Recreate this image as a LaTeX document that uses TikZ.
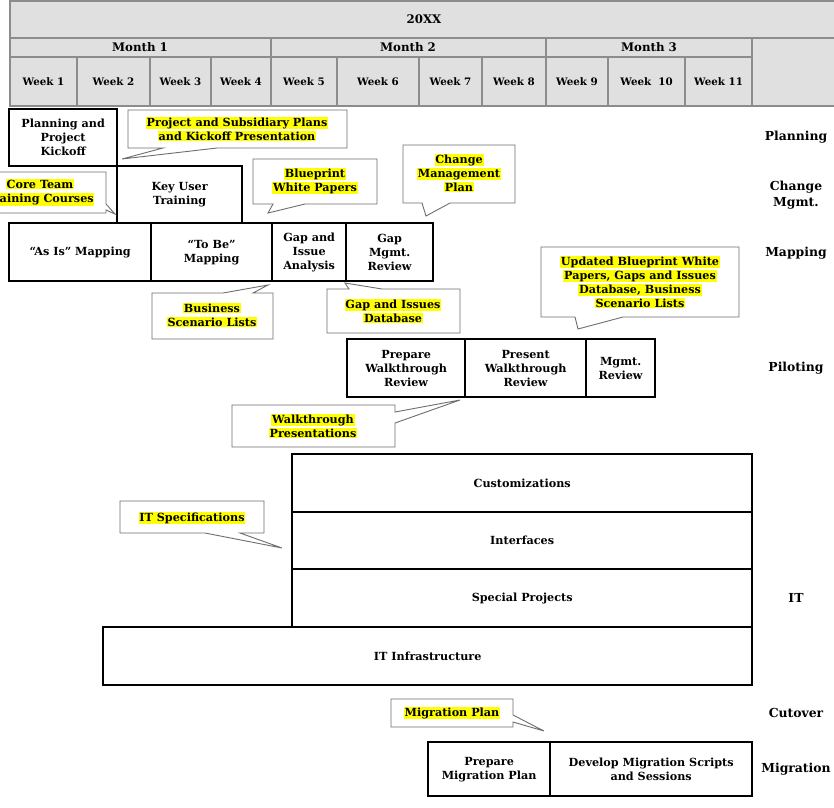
\documentclass[tikz,border=0pt]{standalone}
\usepackage{fontspec}
\setmainfont{DejaVu Serif}
\definecolor{hdrfill}{HTML}{E0E0E0}
\definecolor{hdrline}{HTML}{8C8C8C}
\definecolor{callline}{HTML}{6E6E6E}
\definecolor{hlyellow}{HTML}{FFFF00}
\newcommand{\hlt}[1]{{\setlength{\fboxsep}{0.8pt}\colorbox{hlyellow}{#1}}}
\newcommand{\tbox}[6]{\node[task, minimum width={(#4-#2)*1pt}, minimum height={(#5-#3)*1pt}] (#1) at (#2,#3) {#6};}
\begin{document}
\begin{tikzpicture}[x=1pt,y=-1pt,
  hdrtxt/.style={font=\fontsize{10.3}{12}\selectfont\bfseries, inner sep=0pt},
  monthtxt/.style={font=\fontsize{11.8}{14}\selectfont\bfseries, inner sep=0pt},
  hdrrule/.style={draw=hdrline, line width=1.2pt},
  task/.style={draw=black, line width=2.3pt, fill=white, align=center, inner sep=0pt, anchor=north west, font=\fontsize{11.2}{14}\selectfont\bfseries},
  callout/.style={draw=callline, line width=0.9pt, fill=white, line join=miter},
  calltxt/.style={align=center, inner sep=0pt, font=\fontsize{11.2}{14}\selectfont\bfseries},
  rowlbl/.style={align=center, inner sep=0pt, font=\fontsize{12.4}{16}\selectfont\bfseries}]
\useasboundingbox (0,0) rectangle (834,807);
% header
\fill[hdrfill] (10,1) rectangle (838,106);
\draw[hdrrule] (838,1) -- (10,1) -- (10,106) -- (838,106);
\draw[hdrrule] (10,38) -- (838,38);
\draw[hdrrule] (10,57) -- (752,57);
\foreach \xx in {271,546,752} {\draw[hdrrule] (\xx,38) -- (\xx,106);}
\foreach \xx in {77,150,211,337,419,482,608,685} {\draw[hdrrule] (\xx,57) -- (\xx,106);}
\node[monthtxt] (year) at (424,19) {20XX};
\node[monthtxt] (m1) at (140,47.5) {Month 1};
\node[monthtxt] (m2) at (408,47.5) {Month 2};
\node[monthtxt] (m3) at (649,47.5) {Month 3};
\node[hdrtxt] (w1) at (43.5,82) {Week 1};
\node[hdrtxt] (w2) at (113.5,82) {Week 2};
\node[hdrtxt] (w3) at (180.5,82) {Week 3};
\node[hdrtxt] (w4) at (241,82) {Week 4};
\node[hdrtxt] (w5) at (304,82) {Week 5};
\node[hdrtxt] (w6) at (378,82) {Week 6};
\node[hdrtxt] (w7) at (450.5,82) {Week 7};
\node[hdrtxt] (w8) at (514,82) {Week 8};
\node[hdrtxt] (w9) at (577,82) {Week 9};
\node[hdrtxt] (w10) at (646.5,82) {Week\ \ 10};
\node[hdrtxt] (w11) at (718.5,82) {Week 11};
% row labels
\node[rowlbl] (lplan) at (796,137) {Planning};
\node[rowlbl] (lchg) at (796,195) {Change\\Mgmt.};
\node[rowlbl] (lmap) at (796,253) {Mapping};
\node[rowlbl] (lpil) at (796,368) {Piloting};
\node[rowlbl] (lit) at (796,598) {IT};
\node[rowlbl] (lcut) at (796,713) {Cutover};
\node[rowlbl] (lmig) at (796,769) {Migration};
% tasks
\tbox{plan}{8}{108}{116}{165}{Planning and\\Project\\Kickoff}
\tbox{kut}{116}{165}{241}{222}{Key User\\Training}
\tbox{asis}{8}{222}{150}{280}{“As Is” Mapping}
\tbox{tobe}{150}{222}{271}{280}{“To Be”\\Mapping}
\tbox{gap}{271}{222}{345}{280}{Gap and\\Issue\\Analysis}
\tbox{gmr}{345}{222}{432}{280}{Gap\\Mgmt.\\Review}
\tbox{pwr}{346}{338}{464}{396}{Prepare\\Walkthrough\\Review}
\tbox{prwr}{464}{338}{585}{396}{Present\\Walkthrough\\Review}
\tbox{mr}{585}{338}{654}{396}{Mgmt.\\Review}
\tbox{itinf}{102}{626}{751}{684}{IT Infrastructure}
\tbox{spec}{291}{568}{751}{626}{Special Projects}
\tbox{intf}{291}{511}{751}{568}{Interfaces}
\tbox{cust}{291}{453}{751}{511}{Customizations}
\tbox{pmp}{427}{741}{549}{795}{Prepare\\Migration Plan}
\tbox{dms}{549}{741}{751}{795}{Develop Migration Scripts\\and Sessions}
% callouts
\draw[callout] (128,110) -- (347,110) -- (347,148) -- (217,148) -- (122,159) -- (163,148) -- (128,148) -- cycle;
\node[calltxt] (cproj) at (237,129) {\hlt{Project and Subsidiary Plans}\\\hlt{and Kickoff Presentation}};
\draw[callout] (-30,172) -- (106,172) -- (106,204) -- (115,214) -- (106,210) -- (106,213) -- (-30,213) -- cycle;
\node[calltxt] (ccore) at (40,192.5) {\hlt{Core Team}\\\hlt{Training Courses}};
\draw[callout] (253,159) -- (377,159) -- (377,204) -- (305,204) -- (268,213) -- (273,204) -- (253,204) -- cycle;
\node[calltxt] (cblue) at (315,181) {\hlt{Blueprint}\\\hlt{White Papers}};
\draw[callout] (403,145) -- (515,145) -- (515,203) -- (450,203) -- (426,216) -- (422,203) -- (403,203) -- cycle;
\node[calltxt] (cchg) at (459,173) {\hlt{Change}\\\hlt{Management}\\\hlt{Plan}};
\draw[callout] (541,247) -- (739,247) -- (739,317) -- (623,317) -- (578,329) -- (575,317) -- (541,317) -- cycle;
\node[calltxt] (cupd) at (640,282) {\hlt{Updated Blueprint White}\\\hlt{Papers, Gaps and Issues}\\\hlt{Database, Business}\\\hlt{Scenario Lists}};
\draw[callout] (152,293) -- (223,293) -- (268,285) -- (253,293) -- (273,293) -- (273,339) -- (152,339) -- cycle;
\node[calltxt] (cbus) at (212,315) {\hlt{Business}\\\hlt{Scenario Lists}};
\draw[callout] (327,289) -- (349,289) -- (345,283) -- (382,289) -- (460,289) -- (460,333) -- (327,333) -- cycle;
\node[calltxt] (cgapdb) at (393,311) {\hlt{Gap and Issues}\\\hlt{Database}};
\draw[callout] (232,405) -- (395,405) -- (395,412) -- (460,400) -- (395,423) -- (395,447) -- (232,447) -- cycle;
\node[calltxt] (cwalk) at (313,426) {\hlt{Walkthrough}\\\hlt{Presentations}};
\draw[callout] (120,501) -- (264,501) -- (264,533) -- (240,533) -- (282,548) -- (205,533) -- (120,533) -- cycle;
\node[calltxt] (citspec) at (192,518) {\hlt{IT Specifications}};
\draw[callout] (391,699) -- (513,699) -- (513,715) -- (544,731) -- (513,722) -- (513,727) -- (391,727) -- cycle;
\node[calltxt] (cmig) at (452,713) {\hlt{Migration Plan}};
\end{tikzpicture}
\end{document}
